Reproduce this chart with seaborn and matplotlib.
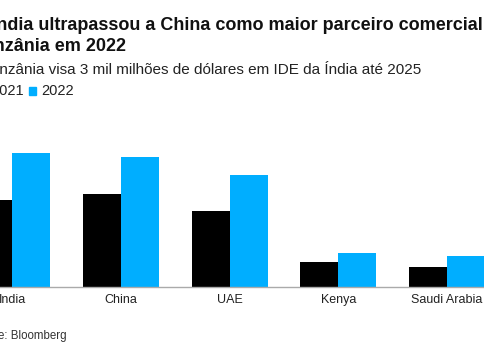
import matplotlib
matplotlib.use("Agg")
import matplotlib.pyplot as plt
import seaborn as sns
import pandas as pd

countries = ["India", "China", "UAE", "Kenya", "Saudi Arabia"]
years = ["2021", "2022"]
values_2021 = [2.64, 2.83, 2.30, 0.77, 0.60]
values_2022 = [4.05, 3.93, 3.38, 1.04, 0.93]

df = pd.DataFrame({
    "country": countries * 2,
    "year": [years[0]] * len(countries) + [years[1]] * len(countries),
    "value": values_2021 + values_2022,
})

sns.set_theme(style="white")
plt.rcParams["font.family"] = ["Liberation Sans", "DejaVu Sans"]

W, H = 485, 360
fig = plt.figure(figsize=(W / 100, H / 100), dpi=100)
# axes: bottom baseline at y=287 px, top at y=140 px
ax = fig.add_axes([0, 1 - 287 / H, 1, (287 - 140) / H])
palette = {"2021": "#000000", "2022": "#00AEFF"}
sns.barplot(data=df, x="country", y="value", hue="year", palette=palette,
            width=0.7, saturation=1, ax=ax, legend=False, linewidth=0)
ax.set_xlim(-0.113, 4.349)
ax.set_ylim(0, 147 / 33)
for s in ["top", "right", "left"]:
    ax.spines[s].set_visible(False)
ax.spines["bottom"].set_color("#aaaaaa")
ax.spines["bottom"].set_linewidth(1)
ax.set_yticks([])
ax.set_xlabel("")
ax.set_ylabel("")
ax.tick_params(axis="x", length=0, pad=5, labelsize=9, colors="#222222")

x0 = -26 / W
fig.text(x0, 1 - 30 / H, "A Índia ultrapassou a China como maior parceiro comercial da",
         fontsize=13, fontweight="bold", color="#111111", ha="left", va="baseline")
fig.text(x0, 1 - 51 / H, "Tanzânia em 2022",
         fontsize=13, fontweight="bold", color="#111111", ha="left", va="baseline")
fig.text(-30 / W, 1 - 74 / H, "A Tanzânia visa 3 mil milhões de dólares em IDE da Índia até 2025",
         fontsize=11, color="#222222", ha="left", va="baseline")

# legend
ly = 1 - 91 / H
sq = 7 / W
fig.patches.append(plt.Rectangle((-21 / W, ly - 3.5 / H), sq, 7 / H, transform=fig.transFigure,
                                 color=palette["2021"]))
fig.text(-9 / W, ly, years[0], fontsize=10.5, color="#222222", va="center")
fig.patches.append(plt.Rectangle((29 / W, ly - 3.5 / H), sq, 7 / H, transform=fig.transFigure,
                                 color=palette["2022"]))
fig.text(41 / W, ly, years[1], fontsize=10.5, color="#222222", va="center")

fig.text(-32 / W, 1 - 339 / H, "Source: Bloomberg", fontsize=8.3, color="#333333",
         ha="left", va="baseline")

fig.savefig("out.png", dpi=100)
